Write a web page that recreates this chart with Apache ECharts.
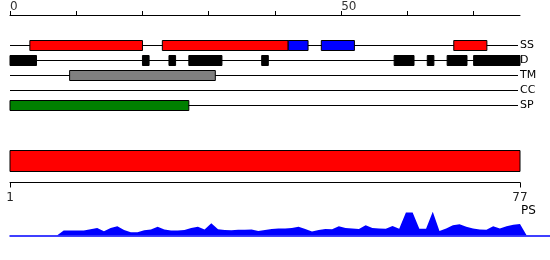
<!DOCTYPE html>
<html><head><meta charset="utf-8">
<script src="https://cdn.jsdelivr.net/npm/echarts@6/dist/echarts.min.js"></script>
<style>html,body{margin:0;padding:0;background:#fff}#c{width:550px;height:260px}</style>
</head><body><div id="c"></div>
<script>
// ---- data ----
const trackNames = ['SS', 'D', 'TM', 'CC', 'SP'];
const ssHelix = [[3, 20], [23, 42], [67, 72]];        // red
const ssStrand = [[42, 45], [47, 52]];                // blue
const disorder = [[0, 4], [20, 21], [24, 25], [27, 32], [38, 39], [58, 61], [63, 64], [66, 69], [70, 77]];
const transmembrane = [[9, 31]];
const coiledCoil = [];
const signalPeptide = [[0, 27]];
const topAxisRange = [0, 77];
const topTicks = [0, 10, 20, 30, 40, 50, 60, 70];
const topTickLabels = [0, 50];
const sequenceRange = [1, 77];
const bottomTickLabels = [1, 77];
const psResidues = [1,2,3,4,5,6,7,8,9,10,11,12,13,14,15,16,17,18,19,20,21,22,23,24,25,26,27,28,29,30,31,32,33,34,35,36,37,38,39,40,41,42,43,44,45,46,47,48,49,50,51,52,53,54,55,56,57,58,59,60,61,62,63,64,65,66,67,68,69,70,71,72,73,74,75,76,77,78];
const psValues = [0,0,0,0,0,0,0,0,5,5,5,5,6.2,7.3,4.3,7.5,9,5.5,3.3,3.3,5.2,6,8.7,6,5,5,5.5,7.5,8.7,6,12,6.2,5.4,5.2,5.7,5.7,6,4.5,5.5,6.5,7,7,7.5,8.7,6.5,4,5.5,6.5,6.2,9,7.5,7,6.3,10,7.5,7,6.7,9.3,6.7,22.7,22.7,6.7,6.7,23.3,4.5,7,10,11,8.7,7,6,5.7,9,7,9,10.5,11.3,0];

// ---- build ----
const featureData = [];
function addFeatures(list, row, color) {
  list.forEach(([s, e]) => featureData.push({ value: [s, e, row], itemStyle: { color } }));
}
addFeatures(ssHelix, 0, '#ff0000');
addFeatures(ssStrand, 0, '#0000ff');
addFeatures(disorder, 1, '#000000');
addFeatures(transmembrane, 2, '#808080');
addFeatures(coiledCoil, 3, '#ffaa00');
addFeatures(signalPeptide, 4, '#008000');
const trackLines = trackNames.map((n, i) => [topAxisRange[0], topAxisRange[1], i]);
const psData = psResidues.map((r, i) => [r, psValues[i]]);

const chart = echarts.init(document.getElementById('c'), null, { renderer: 'canvas' });
const psGridWidth = 540, seqGridWidth = 510;
const psMax = sequenceRange[0] + (sequenceRange[1] - sequenceRange[0]) * psGridWidth / seqGridWidth;

chart.setOption({
  backgroundColor: '#fff',
  animation: false,
  grid: [
    { left: 10, top: 15, width: 510, height: 120 },
    { left: 10, top: 150, width: 510, height: 32.5 },
    { left: 10, top: 205, width: psGridWidth, height: 30.5 }
  ],
  xAxis: [
    { gridIndex: 0, type: 'value', position: 'top', min: topAxisRange[0], max: topAxisRange[1],
      axisLine: { onZero: false, lineStyle: { color: '#000', width: 1 } },
      axisTick: { show: true, length: 4, customValues: topTicks, lineStyle: { color: '#000' } },
      axisLabel: { customValues: topTickLabels, align: 'left', margin: 2, fontSize: 12, color: '#333', fontFamily: 'DejaVu Sans' },
      splitLine: { show: false } },
    { gridIndex: 1, type: 'value', position: 'bottom', min: sequenceRange[0], max: sequenceRange[1],
      axisLine: { onZero: false, lineStyle: { color: '#000', width: 1 } },
      axisTick: { show: true, length: 5, customValues: bottomTickLabels, lineStyle: { color: '#000' } },
      axisLabel: { customValues: bottomTickLabels, margin: 9, fontSize: 12, color: '#222', fontFamily: 'DejaVu Sans' },
      splitLine: { show: false } },
    { gridIndex: 2, type: 'value', min: sequenceRange[0], max: psMax,
      axisLine: { onZero: false, lineStyle: { color: '#0000ff', width: 1.5 } },
      axisTick: { show: false }, axisLabel: { show: false }, splitLine: { show: false } }
  ],
  yAxis: [
    { gridIndex: 0, type: 'value', inverse: true, min: -2, max: 6, position: 'right',
      axisLine: { show: false }, axisTick: { show: false }, splitLine: { show: false },
      axisLabel: { customValues: [0, 1, 2, 3, 4], formatter: v => trackNames[v] || '', margin: 0,
        fontSize: 11, color: '#000', fontFamily: 'DejaVu Sans', align: 'left' } },
    { gridIndex: 1, type: 'value', inverse: true, min: 0, max: 1, show: false },
    { gridIndex: 2, type: 'value', min: 0, max: 30, show: false }
  ],
  series: [
    { type: 'custom', xAxisIndex: 0, yAxisIndex: 0, z: 1, silent: true, clip: false,
      data: trackLines,
      renderItem(params, api) {
        const a = api.coord([api.value(0), api.value(2)]);
        const b = api.coord([api.value(1), api.value(2)]);
        return { type: 'line', shape: { x1: a[0], y1: a[1] + 0.5, x2: b[0] - 2, y2: b[1] + 0.5 },
          style: { stroke: '#000', lineWidth: 1 } };
      } },
    { type: 'custom', xAxisIndex: 0, yAxisIndex: 0, z: 2, silent: true, clip: false,
      data: featureData,
      renderItem(params, api) {
        const a = api.coord([api.value(0), api.value(2)]);
        const b = api.coord([api.value(1), api.value(2)]);
        return { type: 'rect', shape: { x: a[0], y: a[1] - 4.5, width: b[0] - a[0], height: 10 },
          style: { fill: api.visual('color'), stroke: '#000', lineWidth: 1 } };
      } },
    { type: 'custom', xAxisIndex: 1, yAxisIndex: 1, z: 2, silent: true, clip: false,
      data: [[sequenceRange[0], sequenceRange[1]]],
      renderItem(params, api) {
        const a = api.coord([api.value(0), 0]);
        const b = api.coord([api.value(1), 0]);
        return { type: 'rect', shape: { x: a[0], y: a[1] + 0.5, width: b[0] - a[0], height: 21 },
          style: { fill: '#ff0000', stroke: '#000', lineWidth: 1 } };
      } },
    { type: 'line', xAxisIndex: 2, yAxisIndex: 2, data: psData, showSymbol: false, silent: true,
      lineStyle: { width: 0, color: '#0000ff' }, itemStyle: { color: '#0000ff' },
      areaStyle: { color: '#0000ff', opacity: 1 }, z: 2 }
  ],
  graphic: [
    { type: 'text', left: 521, top: 205, style: { text: 'PS', fontSize: 12, fill: '#000', fontFamily: 'DejaVu Sans' } }
  ]
});
</script>
</body></html>
